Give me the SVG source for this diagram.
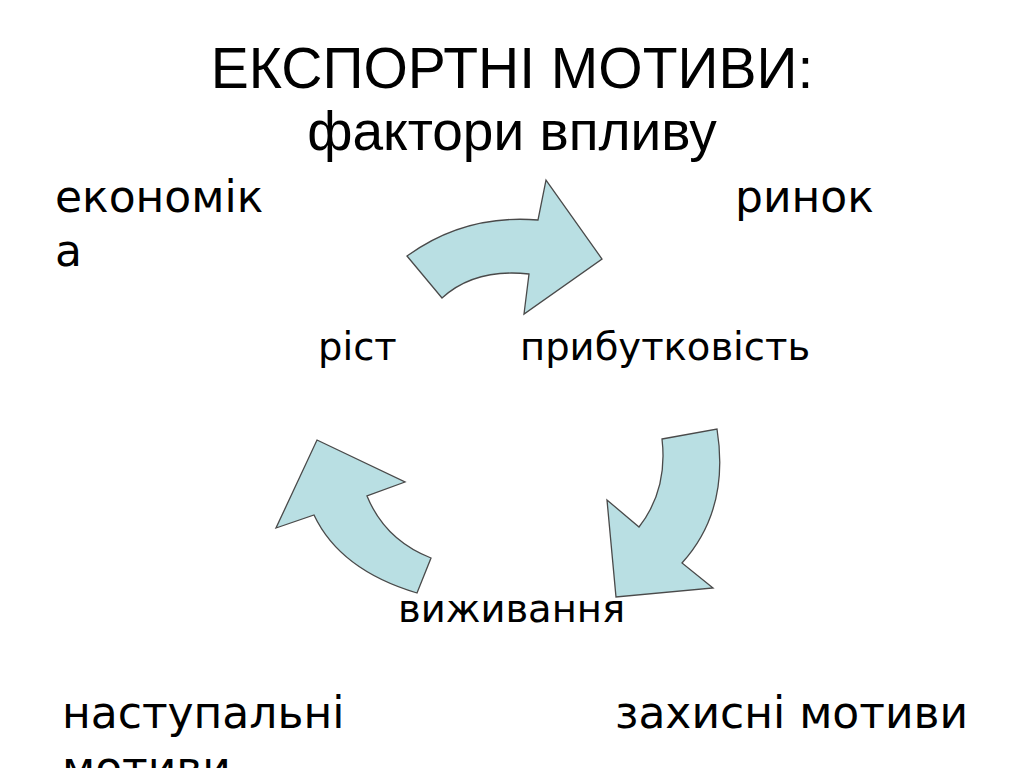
<svg xmlns="http://www.w3.org/2000/svg" width="1024" height="768" viewBox="0 0 1024 768">
<style>
.t{font-family:"Liberation Sans",Arial,sans-serif;fill:#000;text-anchor:middle}
.l{font-family:"DejaVu Sans",Verdana,sans-serif;fill:#000}
.arr{fill:#b9dfe3;stroke:#4a4a4a;stroke-width:1.3;stroke-linejoin:miter}
</style>
<rect width="1024" height="768" fill="#fff"/>
<g id="title">
<text class="t" x="512" y="88" font-size="57">ЕКСПОРТНІ МОТИВИ:</text>
<text class="t" x="512" y="150" font-size="55">фактори впливу</text>
</g>
<g id="connectors">
<path class="arr" d="M407,256 Q465,214 538,220 L546,180 L602,259 L524,314 L529,274 Q475,268 442,298 Z"/>
<path class="arr" d="M662,439 L717,429 Q730,510 682,563 L713,588 L616,597 L607,500 L639,527 Q668,490 662,439 Z"/>
<path class="arr" d="M317,440 L405,482 L367,496 Q385,540 431,558 L417,593 Q340,570 314,515 L276,528 Z"/>
</g>
<g id="n-ekonomika"><text class="l" x="55" y="212" font-size="44">економік</text><text class="l" x="55" y="266" font-size="44">а</text></g>
<g id="n-rynok"><text class="l" x="735" y="212" font-size="44">ринок</text></g>
<g id="n-rist"><text class="l" x="318" y="360" font-size="38.5">ріст</text></g>
<g id="n-prybutkovist"><text class="l" x="520" y="360" font-size="38.5">прибутковість</text></g>
<g id="n-vyzhyvannia"><text class="l" x="398" y="622" font-size="38.5">виживання</text></g>
<g id="n-nastupalni"><text class="l" x="62" y="728" font-size="44">наступальні</text><text class="l" x="62" y="783" font-size="44">мотиви</text></g>
<g id="n-zakhysni"><text class="l" x="615" y="728" font-size="44">захисні мотиви</text></g>
</svg>
